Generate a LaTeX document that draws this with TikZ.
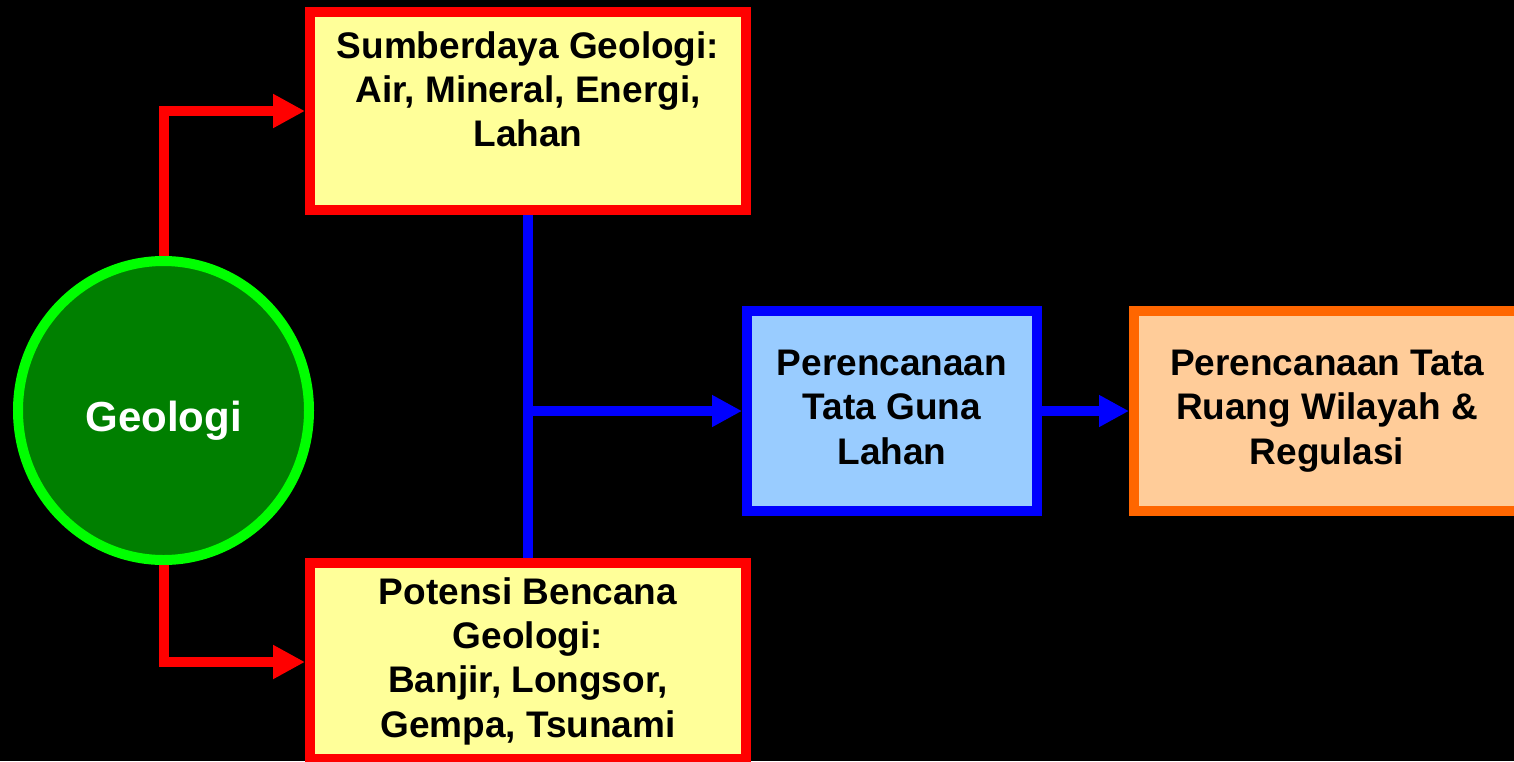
\documentclass[tikz,border=0pt]{standalone}
\usepackage{fontspec}
\setmainfont{Liberation Sans}
\usetikzlibrary{arrows.meta,shapes.geometric}

\definecolor{boxyellow}{HTML}{FFFF99}
\definecolor{boxblue}{HTML}{99CCFF}
\definecolor{boxpeach}{HTML}{FFCC99}
\definecolor{edgeorange}{HTML}{FF6600}
\definecolor{edgegreen}{HTML}{00FF00}
\definecolor{fillgreen}{HTML}{007F00}

\begin{document}
\begin{tikzpicture}[x=1pt,y=-1pt,
  box/.style={rectangle, draw, line width=10pt, inner sep=0pt, align=center,
    text=black, font=\fontsize{37}{44.3}\selectfont\bfseries},
  ybox/.style={box, draw=red, fill=boxyellow},
  redlink/.style={draw=red, line width=10pt, -{Triangle[length=32pt,width=32pt]}},
  bluelink/.style={draw=blue, line width=10pt, -{Triangle[length=30pt,width=30pt]}},
  blueline/.style={draw=blue, line width=10pt}]

\useasboundingbox (0,0) rectangle (1514,761);
\clip (0,0) rectangle (1514,761);
\fill[black] (0,0) rectangle (1514,761);

% central source
\node[ellipse, draw=edgegreen, fill=fillgreen, line width=10pt,
      minimum width=291pt, minimum height=299pt, inner sep=0pt,
      text height=41pt, text depth=0pt,
      text=white, font=\fontsize{42}{48}\selectfont\bfseries] (geo) at (163.5,410.5) {Geologi};

% resources and hazards
\node[ybox, minimum width=436pt, minimum height=198pt] (src) at (528,111)
  {\parbox[c][198pt][t]{436pt}{\centering\rule{0pt}{46pt}Sumberdaya Geologi:\\Air, Mineral, Energi,\\Lahan}};
\node[ybox, minimum width=436pt, minimum height=196pt] (haz) at (528,661)
  {Potensi Bencana\\Geologi:\\Banjir, Longsor,\\Gempa, Tsunami};

% planning stages
\node[box, draw=blue, fill=boxblue, minimum width=290pt, minimum height=200pt] (plan) at (892,411)
  {Perencanaan\\Tata Guna\\Lahan\vphantom{g}};
\node[box, draw=edgeorange, fill=boxpeach, minimum width=386pt, minimum height=200pt] (rtrw) at (1327,411)
  {Perencanaan Tata\\Ruang Wilayah \&\\Regulasi};

% connectors
\draw[redlink] (geo.north) |- (src.west);
\draw[redlink] (geo.south) |- ([yshift=-1pt]haz.west);
\draw[blueline] (src.south) -- (haz.north);
\coordinate (jn) at (src.south |- plan.west);
\draw[bluelink] (jn) -- (plan.west);
\draw[bluelink] (plan.east) -- (rtrw.west);
\end{tikzpicture}
\end{document}
